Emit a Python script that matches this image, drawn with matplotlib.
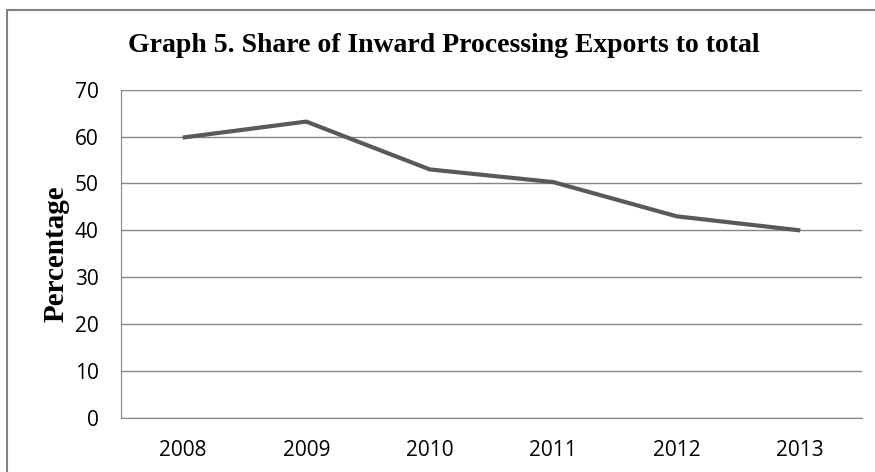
import matplotlib
matplotlib.use('Agg')
import matplotlib.pyplot as plt
from matplotlib.patches import Rectangle

# data
years = ['2008', '2009', '2010', '2011', '2012', '2013']
share = [59.8, 63.2, 53.0, 50.3, 43.0, 40.0]
y_ticks = [0, 10, 20, 30, 40, 50, 60, 70]

fig = plt.figure(figsize=(8.75, 4.72), dpi=100)
ax = fig.add_axes([121 / 875, 1 - 418 / 472, (862 - 121) / 875, (418 - 89.7) / 472])

x = range(len(years))
ax.plot(x, share, color='#595959', linewidth=3.0, solid_capstyle='butt', zorder=3)

ax.set_xlim(-0.5, len(years) - 0.5)
ax.set_ylim(0, 70)
ax.set_yticks(y_ticks)
ax.set_xticks(list(x))
ax.set_xticklabels(years)
ax.grid(axis='y', color='#868686', linewidth=1.0)
ax.tick_params(length=0, labelsize=15, colors='black')
ax.tick_params(axis='y', pad=16)
ax.tick_params(axis='x', pad=16)
for lab in ax.get_xticklabels() + ax.get_yticklabels():
    lab.set_family('Open Sans')

for s in ['top', 'right']:
    ax.spines[s].set_visible(False)
ax.spines['left'].set_color('#868686')
ax.spines['bottom'].set_color('#868686')

ax.set_ylabel('Percentage', family='Liberation Serif', fontweight='bold', fontsize=21)
ax.yaxis.set_label_coords((70 - 121) / 741, 1 - (254 - 89.7) / (418 - 89.7))
fig.text(443.5 / 875, 1 - 45 / 472, 'Graph 5. Share of Inward Processing Exports to total',
         family='Liberation Serif', fontweight='bold', fontsize=20, ha='center', va='center')

# outer frame of the chart box (runs off the right and bottom edges)
fig.add_artist(Rectangle((7 / 875, -0.2), 1.2, 1.2 - 10 / 472,
                         transform=fig.transFigure, fill=False,
                         edgecolor='#808080', linewidth=1.5))

fig.savefig('out.png', dpi=100)
